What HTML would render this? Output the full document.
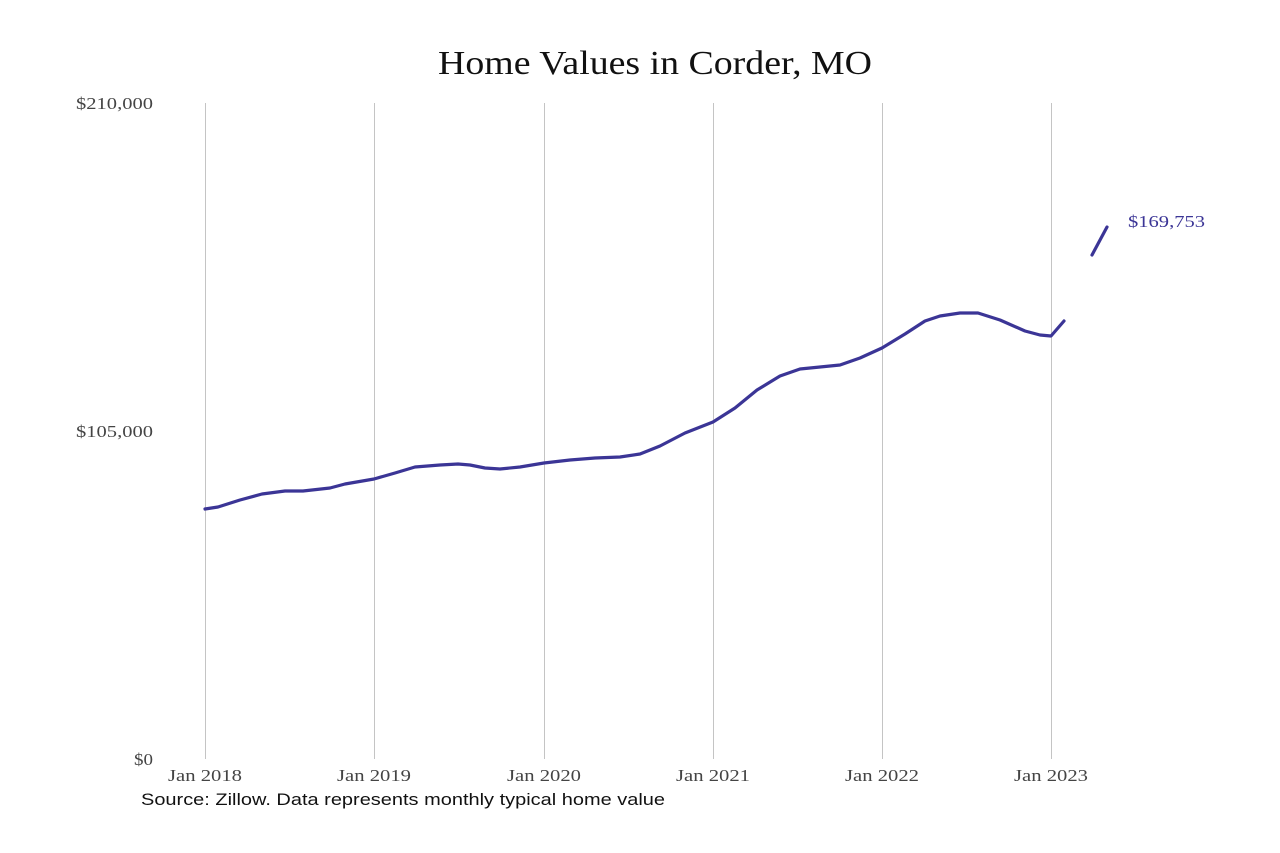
<!DOCTYPE html>
<html><head><meta charset="utf-8"><style>
html,body{margin:0;padding:0;background:#fff;}
svg{display:block;}
</style></head><body>
<svg width="1280" height="853" viewBox="0 0 1280 853" xmlns="http://www.w3.org/2000/svg">
<rect width="1280" height="853" fill="#fff"/>
<text x="438" y="74" textLength="434" lengthAdjust="spacingAndGlyphs" font-family="Liberation Serif, serif" font-size="34" fill="#111">Home Values in Corder, MO</text>
<g stroke="#c4c4c4" stroke-width="1">
<line x1="205.5" y1="103" x2="205.5" y2="759"/>
<line x1="374.5" y1="103" x2="374.5" y2="759"/>
<line x1="544.5" y1="103" x2="544.5" y2="759"/>
<line x1="713.5" y1="103" x2="713.5" y2="759"/>
<line x1="882.5" y1="103" x2="882.5" y2="759"/>
<line x1="1051.5" y1="103" x2="1051.5" y2="759"/>
</g>
<g font-family="Liberation Serif, serif" font-size="17" fill="#444" lengthAdjust="spacingAndGlyphs">
<text x="76" y="109" textLength="77" lengthAdjust="spacingAndGlyphs">$210,000</text>
<text x="76" y="437" textLength="77" lengthAdjust="spacingAndGlyphs">$105,000</text>
<text x="134" y="765" textLength="19" lengthAdjust="spacingAndGlyphs">$0</text>
<text x="168" y="781" textLength="74" lengthAdjust="spacingAndGlyphs">Jan 2018</text>
<text x="337" y="781" textLength="74" lengthAdjust="spacingAndGlyphs">Jan 2019</text>
<text x="507" y="781" textLength="74" lengthAdjust="spacingAndGlyphs">Jan 2020</text>
<text x="676" y="781" textLength="74" lengthAdjust="spacingAndGlyphs">Jan 2021</text>
<text x="845" y="781" textLength="74" lengthAdjust="spacingAndGlyphs">Jan 2022</text>
<text x="1014" y="781" textLength="74" lengthAdjust="spacingAndGlyphs">Jan 2023</text>
<text x="1128" y="227" fill="#3b3596" textLength="77" lengthAdjust="spacingAndGlyphs">$169,753</text>
</g>
<g fill="none" stroke="#3b3596" stroke-width="3.2" stroke-linecap="round" stroke-linejoin="round">
<polyline points="205,509 218,507 240,500 262,494 285,491 303,491 330,488 345,484 374,479 395,473 415,467 440,465 458,464 470,465 485,468 500,469 520,467 544,463 570,460 595,458 620,457 640,454 660,446 685,433 713,422 735,408 757,390 780,376 800,369 820,367 840,365 860,358 882,348 905,334 925,321 940,316 960,313 978,313 1000,320 1025,331 1040,335 1051,336 1064,321"/>
<line x1="1092" y1="255" x2="1107" y2="227"/>
</g>
<text x="141" y="805" textLength="524" lengthAdjust="spacingAndGlyphs" font-family="Liberation Sans, sans-serif" font-size="17" fill="#111">Source: Zillow. Data represents monthly typical home value</text>
</svg>
</body></html>
